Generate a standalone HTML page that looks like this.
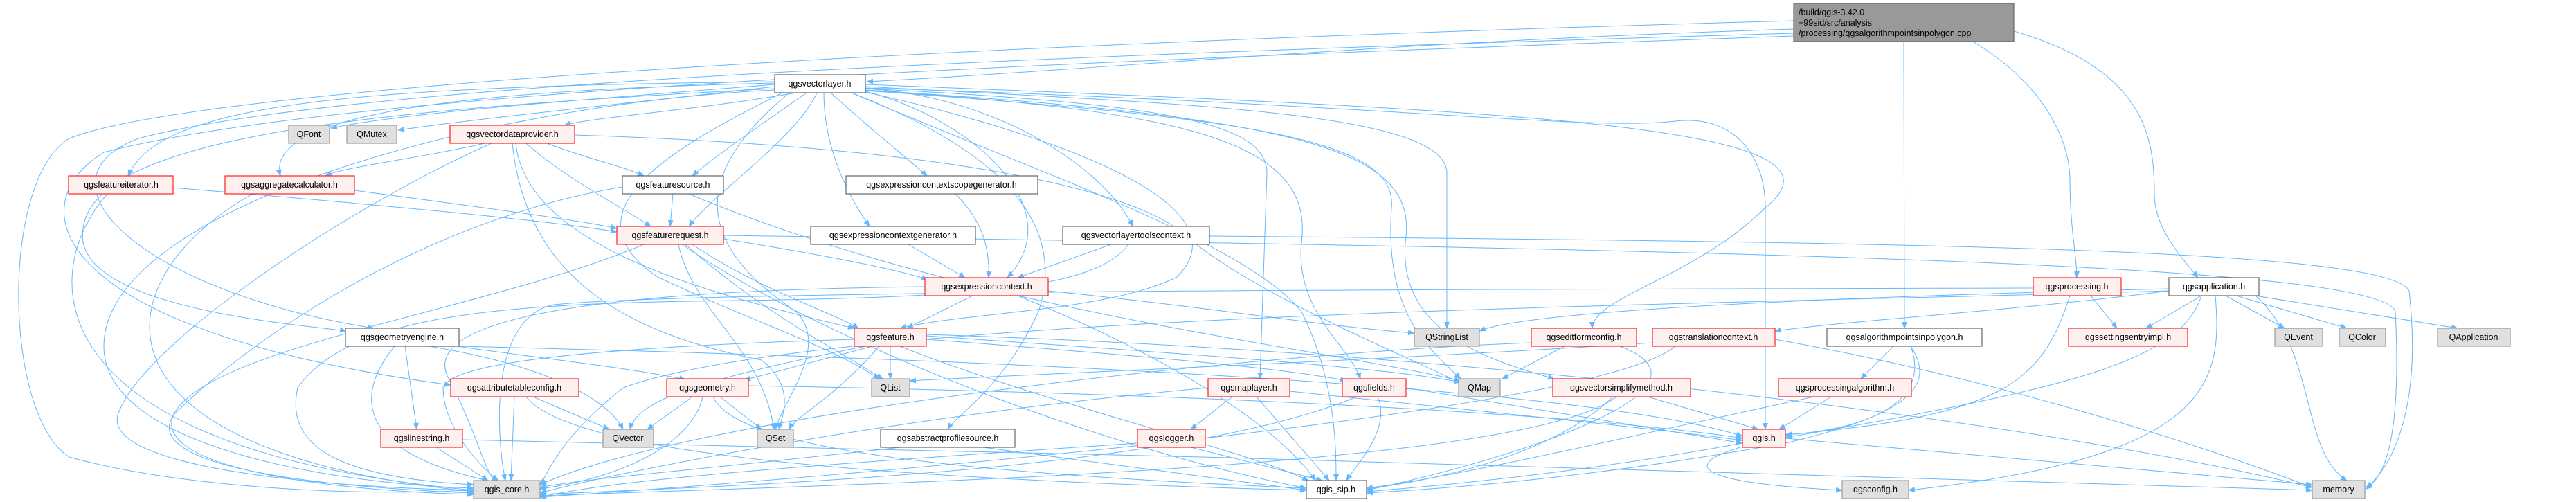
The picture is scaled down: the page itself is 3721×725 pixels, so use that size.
<!DOCTYPE html>
<html><head><meta charset="utf-8"><style>
html,body{margin:0;padding:0;background:#fff;}
svg{display:block;}
text{font-family:"Liberation Sans",sans-serif;font-size:12.5px;fill:#000;text-anchor:middle;}
.e{fill:none;stroke:#63b8ff;stroke-width:1;marker-end:url(#a);}
.r{fill:#fff0f0;stroke:#ff2020;stroke-width:1.2;}
.g{fill:#e0e0e0;stroke:#999;stroke-width:1.2;}
.w{fill:#fff;stroke:#666;stroke-width:1.2;}
</style></head><body>
<svg width="3721" height="725" viewBox="0 0 3721 725" xmlns="http://www.w3.org/2000/svg">
<defs><marker id="a" markerWidth="10" markerHeight="8" refX="9" refY="4" orient="auto" markerUnits="userSpaceOnUse"><path d="M0,0 L10,4 L0,8 z" fill="#63b8ff"/></marker></defs>
<g>
<path class="e" d="M2591 42 C2000 60,1600 100,1252 118"/>
<path class="e" d="M2591 30 C1500 60,300 120,100 200 C0 260,5 600,100 660 C300 715,600 715,684 707"/>
<path class="e" d="M2591 48 C1500 80,500 120,200 200 C40 260,200 420,540 474"/>
<path class="e" d="M2591 52 C1500 90,500 130,150 220 C20 300,80 480,651 556"/>
<path class="e" d="M2750 60 L2751 474"/>
<path class="e" d="M2850 60 C2950 120,2990 200,2990 260 C2990 330,3000 370,3000 401"/>
<path class="e" d="M2909 45 C3100 100,3112 200,3112 280 C3112 330,3150 370,3175 401"/>
<path class="e" d="M1119 122 C900 140,600 160,478 185"/>
<path class="e" d="M1119 125 C900 150,700 170,575 188"/>
<path class="e" d="M1150 134 C1000 160,850 170,815 181"/>
<path class="e" d="M1119 118 C500 125,230 150,185 254"/>
<path class="e" d="M1119 120 C700 130,380 160,405 254"/>
<path class="e" d="M1165 134 C1100 180,1040 220,1000 254"/>
<path class="e" d="M1180 134 C1150 200,1030 280,995 327"/>
<path class="e" d="M1200 134 C1250 180,1300 220,1339 254"/>
<path class="e" d="M1190 134 C1190 220,1230 290,1256 327"/>
<path class="e" d="M1250 128 C1450 140,1600 250,1636 327"/>
<path class="e" d="M1250 132 C1400 170,1550 300,1455 401"/>
<path class="e" d="M1250 133 C1550 200,1800 300,1700 400 C1600 450,1400 450,1300 474"/>
<path class="e" d="M1250 125 C1700 150,2090 160,2090 250 L2090 474"/>
<path class="e" d="M1250 122 C2200 160,2700 180,2550 300 C2450 400,2300 430,2300 474"/>
<path class="e" d="M1250 128 C1700 150,1830 180,1830 250 L1820 547"/>
<path class="e" d="M1250 130 C1700 160,1900 200,1880 350 C1870 450,1950 500,1965 547"/>
<path class="e" d="M1250 131 C1800 170,2020 200,2010 300 C2000 450,2060 500,2110 547"/>
<path class="e" d="M1250 130 C1900 170,2050 220,2030 350 C2020 480,2150 520,2245 547"/>
<path class="e" d="M1250 127 C2000 150,2300 190,2420 175 C2500 165,2550 220,2550 300 L2550 620"/>
<path class="e" d="M1119 130 C700 150,150 300,150 500 C150 650,500 700,684 705"/>
<path class="e" d="M1230 134 C1500 250,1800 350,1880 450 C1930 550,1930 650,1930 694"/>
<path class="e" d="M1130 134 C1000 200,800 300,950 400 C1100 470,1200 500,1270 547"/>
<path class="e" d="M1140 134 C1000 250,1000 350,1150 450 C1200 500,1130 580,1120 620"/>
<path class="e" d="M1230 134 C1400 200,1550 300,1500 450 C1450 560,1380 600,1369 620"/>
<path class="e" d="M1119 128 C500 160,100 200,120 350 C140 450,450 470,500 478"/>
<path class="e" d="M1747 341 C2800 350,3450 360,3480 420 C3500 600,3450 680,3418 704"/>
<path class="e" d="M1045 340 C2500 360,3440 380,3460 450 C3470 650,3440 690,3418 706"/>
<path class="e" d="M700 207 C600 230,500 240,470 254"/>
<path class="e" d="M790 207 C850 230,900 240,930 254"/>
<path class="e" d="M760 207 C820 260,900 300,940 327"/>
<path class="e" d="M710 207 C500 300,200 500,170 600 C150 680,500 705,684 708"/>
<path class="e" d="M745 207 C760 350,1000 420,1234 474"/>
<path class="e" d="M830 195 C1300 210,1600 260,1700 330 C1800 420,2000 500,2110 553"/>
<path class="e" d="M740 207 C760 400,900 480,1100 520 C1150 560,1130 600,1125 620"/>
<path class="e" d="M250 271 C600 300,800 320,891 335"/>
<path class="e" d="M155 280 C50 400,55 650,684 708"/>
<path class="e" d="M512 275 C700 300,850 320,891 330"/>
<path class="e" d="M365 280 C150 400,100 650,684 710"/>
<path class="e" d="M972 280 L968 327"/>
<path class="e" d="M899 270 C600 320,350 500,250 600 C200 680,500 705,684 712"/>
<path class="e" d="M995 280 C1400 450,1900 500,2110 550"/>
<path class="e" d="M1000 353 C1100 420,1200 450,1240 474"/>
<path class="e" d="M1045 345 C1200 370,1300 390,1340 404"/>
<path class="e" d="M990 353 C1100 450,1200 500,1275 547"/>
<path class="e" d="M980 353 C1000 450,1100 500,1118 620"/>
<path class="e" d="M985 353 C1200 500,1600 650,1887 705"/>
<path class="e" d="M930 353 C700 450,300 500,250 600 C220 680,500 710,684 714"/>
<path class="e" d="M1312 353 L1394 401"/>
<path class="e" d="M1380 280 C1420 320,1430 360,1428 401"/>
<path class="e" d="M1605 353 L1470 401"/>
<path class="e" d="M1630 353 C1580 420,1400 430,1000 435 C700 440,500 460,430 560 C410 650,500 690,684 700"/>
<path class="e" d="M1405 427 L1310 474"/>
<path class="e" d="M1514 420 C1800 450,1900 470,2043 481"/>
<path class="e" d="M1470 427 C1700 520,1850 620,1900 694"/>
<path class="e" d="M1336 414 C800 420,600 470,650 550 C700 650,700 690,720 694"/>
<path class="e" d="M1286 500 L1286 547"/>
<path class="e" d="M1260 500 L1075 549"/>
<path class="e" d="M1338 490 C1600 510,1850 530,1945 550"/>
<path class="e" d="M1338 485 C1700 510,2000 530,2110 552"/>
<path class="e" d="M1300 500 C1500 580,1800 650,1890 694"/>
<path class="e" d="M1250 500 C1000 550,920 580,910 620"/>
<path class="e" d="M1234 490 C900 500,650 520,640 560 C640 620,700 680,720 694"/>
<path class="e" d="M1270 500 C1200 580,1150 600,1140 620"/>
<path class="e" d="M1338 483 C2200 510,3000 620,3340 704"/>
<path class="e" d="M660 500 C800 520,900 530,990 548"/>
<path class="e" d="M620 500 C800 530,880 580,900 620"/>
<path class="e" d="M585 500 L602 620"/>
<path class="e" d="M570 500 C520 560,500 650,705 694"/>
<path class="e" d="M663 500 C1500 520,2300 560,2517 630"/>
<path class="e" d="M770 573 L880 620"/>
<path class="e" d="M743 573 L738 694"/>
<path class="e" d="M760 573 C820 650,1200 690,1887 708"/>
<path class="e" d="M1000 573 L935 620"/>
<path class="e" d="M1040 573 L1100 620"/>
<path class="e" d="M1015 573 C1000 640,900 690,780 706"/>
<path class="e" d="M1030 573 C1060 640,1300 680,1887 705"/>
<path class="e" d="M1081 557 C1800 570,2300 600,2517 633"/>
<path class="e" d="M630 646 L705 694"/>
<path class="e" d="M668 635 C1500 650,2800 690,3340 708"/>
<path class="e" d="M1780 573 L1720 620"/>
<path class="e" d="M1815 573 L1920 694"/>
<path class="e" d="M1745 560 C1300 600,900 680,780 712"/>
<path class="e" d="M1863 565 C2200 600,2400 620,2517 636"/>
<path class="e" d="M1990 573 C2010 620,1960 670,1945 694"/>
<path class="e" d="M1960 573 C1700 680,1100 700,780 714"/>
<path class="e" d="M2031 560 L2517 640"/>
<path class="e" d="M2330 573 C2250 650,2100 690,1974 706"/>
<path class="e" d="M2380 573 L2540 620"/>
<path class="e" d="M2335 573 C2200 680,1200 700,780 716"/>
<path class="e" d="M2260 500 L2170 547"/>
<path class="e" d="M2212 495 C1800 510,1000 600,780 700"/>
<path class="e" d="M2340 500 C2500 560,2200 660,1974 708"/>
<path class="e" d="M2387 495 C2000 520,1500 540,1314 550"/>
<path class="e" d="M2564 490 C2900 550,3200 650,3340 704"/>
<path class="e" d="M2420 500 C2300 600,1200 690,780 718"/>
<path class="e" d="M1420 646 L1887 708"/>
<path class="e" d="M1300 646 C1000 680,850 690,780 704"/>
<path class="e" d="M1720 646 L1910 694"/>
<path class="e" d="M1643 640 C1200 670,900 690,780 718"/>
<path class="e" d="M2517 640 C2300 680,2100 700,1974 710"/>
<path class="e" d="M2579 633 L3340 700"/>
<path class="e" d="M2517 645 C2400 680,2500 700,2661 708"/>
<path class="e" d="M2645 573 L2570 620"/>
<path class="e" d="M2620 573 C2400 620,2100 690,1974 705"/>
<path class="e" d="M2735 500 L2688 547"/>
<path class="e" d="M2760 500 C2790 580,2700 620,2579 628"/>
<path class="e" d="M3020 427 L3058 474"/>
<path class="e" d="M2990 427 C2950 550,2900 600,2579 628"/>
<path class="e" d="M2937 416 C2000 418,1000 420,800 440 C700 460,720 650,730 694"/>
<path class="e" d="M3180 427 L3100 474"/>
<path class="e" d="M3215 427 L3300 474"/>
<path class="e" d="M3230 427 L3390 474"/>
<path class="e" d="M3245 425 L3550 474"/>
<path class="e" d="M3250 420 C3350 500,3320 650,3390 694"/>
<path class="e" d="M3200 427 C3210 550,3200 660,2757 708"/>
<path class="e" d="M3180 427 C3150 520,3000 560,2579 632"/>
<path class="e" d="M3133 420 C2500 440,1200 450,900 560 C800 640,790 690,780 700"/>
<path class="e" d="M3133 417 C2600 430,2200 450,2137 478"/>
<path class="e" d="M3133 420 C2900 450,2700 460,2564 478"/>
<path class="e" d="M2760 500 C2800 560,2750 600,2579 640 C2300 690,2100 705,1974 712"/>
</g>
<g>
<rect x="2591" y="5" width="318" height="55" fill="#999" stroke="#666" stroke-width="1.2"/>
<text x="2598" y="22" style="text-anchor:start">/build/qgis-3.42.0</text>
<text x="2598" y="37" style="text-anchor:start">+99sid/src/analysis</text>
<text x="2598" y="52" style="text-anchor:start">/processing/qgsalgorithmpointsinpolygon.cpp</text>

<rect class="w" x="1119" y="108" width="131" height="26"/><text x="1184" y="125">qgsvectorlayer.h</text>
<rect class="g" x="417" y="181" width="59" height="26"/><text x="446" y="198">QFont</text>
<rect class="g" x="501" y="181" width="72" height="26"/><text x="537" y="198">QMutex</text>
<rect class="r" x="650" y="181" width="180" height="26"/><text x="740" y="198">qgsvectordataprovider.h</text>
<rect class="r" x="99" y="254" width="151" height="26"/><text x="175" y="271">qgsfeatureiterator.h</text>
<rect class="r" x="325" y="254" width="187" height="26"/><text x="418" y="271">qgsaggregatecalculator.h</text>
<rect class="w" x="899" y="254" width="146" height="26"/><text x="972" y="271">qgsfeaturesource.h</text>
<rect class="w" x="1222" y="254" width="277" height="26"/><text x="1360" y="271">qgsexpressioncontextscopegenerator.h</text>
<rect class="r" x="891" y="327" width="154" height="26"/><text x="968" y="344">qgsfeaturerequest.h</text>
<rect class="w" x="1171" y="327" width="238" height="26"/><text x="1290" y="344">qgsexpressioncontextgenerator.h</text>
<rect class="w" x="1535" y="327" width="212" height="26"/><text x="1641" y="344">qgsvectorlayertoolscontext.h</text>
<rect class="r" x="1336" y="401" width="178" height="26"/><text x="1425" y="418">qgsexpressioncontext.h</text>
<rect class="r" x="2937" y="401" width="127" height="26"/><text x="3000" y="418">qgsprocessing.h</text>
<rect class="w" x="3133" y="401" width="130" height="26"/><text x="3198" y="418">qgsapplication.h</text>
<rect class="w" x="499" y="474" width="164" height="26"/><text x="581" y="491">qgsgeometryengine.h</text>
<rect class="r" x="1234" y="474" width="104" height="26"/><text x="1286" y="491">qgsfeature.h</text>
<rect class="g" x="2043" y="474" width="94" height="26"/><text x="2090" y="491">QStringList</text>
<rect class="r" x="2212" y="474" width="152" height="26"/><text x="2288" y="491">qgseditformconfig.h</text>
<rect class="r" x="2387" y="474" width="177" height="26"/><text x="2475" y="491">qgstranslationcontext.h</text>
<rect class="w" x="2639" y="474" width="224" height="26"/><text x="2751" y="491">qgsalgorithmpointsinpolygon.h</text>
<rect class="r" x="2988" y="474" width="172" height="26"/><text x="3074" y="491">qgssettingsentryimpl.h</text>
<rect class="g" x="3286" y="474" width="69" height="26"/><text x="3320" y="491">QEvent</text>
<rect class="g" x="3379" y="474" width="67" height="26"/><text x="3412" y="491">QColor</text>
<rect class="g" x="3521" y="474" width="105" height="26"/><text x="3573" y="491">QApplication</text>
<rect class="r" x="651" y="547" width="185" height="26"/><text x="743" y="564">qgsattributetableconfig.h</text>
<rect class="r" x="963" y="547" width="118" height="26"/><text x="1022" y="564">qgsgeometry.h</text>
<rect class="g" x="1259" y="547" width="55" height="26"/><text x="1286" y="564">QList</text>
<rect class="r" x="1745" y="547" width="118" height="26"/><text x="1804" y="564">qgsmaplayer.h</text>
<rect class="r" x="1939" y="547" width="92" height="26"/><text x="1985" y="564">qgsfields.h</text>
<rect class="g" x="2107" y="547" width="60" height="26"/><text x="2137" y="564">QMap</text>
<rect class="r" x="2243" y="547" width="199" height="26"/><text x="2342" y="564">qgsvectorsimplifymethod.h</text>
<rect class="r" x="2569" y="547" width="192" height="26"/><text x="2665" y="564">qgsprocessingalgorithm.h</text>
<rect class="r" x="550" y="620" width="118" height="26"/><text x="609" y="637">qgslinestring.h</text>
<rect class="g" x="871" y="620" width="73" height="26"/><text x="907" y="637">QVector</text>
<rect class="g" x="1094" y="620" width="52" height="26"/><text x="1120" y="637">QSet</text>
<rect class="w" x="1272" y="620" width="194" height="26"/><text x="1369" y="637">qgsabstractprofilesource.h</text>
<rect class="r" x="1643" y="620" width="98" height="26"/><text x="1692" y="637">qgslogger.h</text>
<rect class="r" x="2517" y="620" width="62" height="26"/><text x="2548" y="637">qgis.h</text>
<rect class="g" x="684" y="694" width="96" height="26"/><text x="732" y="711">qgis_core.h</text>
<rect class="w" x="1887" y="694" width="87" height="26"/><text x="1930" y="711">qgis_sip.h</text>
<rect class="g" x="2661" y="694" width="96" height="26"/><text x="2709" y="711">qgsconfig.h</text>
<rect class="g" x="3340" y="694" width="76" height="26"/><text x="3378" y="711">memory</text>
</g>
</svg>
</body></html>
